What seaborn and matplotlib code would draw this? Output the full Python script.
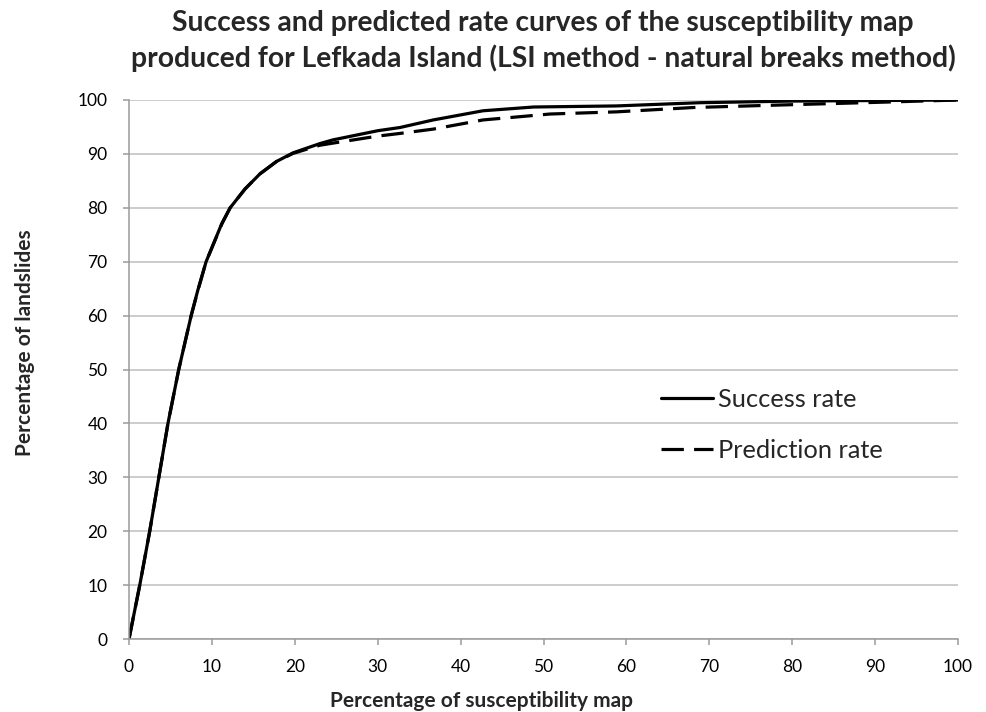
import numpy as np
import pandas as pd
import matplotlib
matplotlib.use("Agg")
import matplotlib.pyplot as plt
from matplotlib.lines import Line2D
import seaborn as sns

success_x = [0, 1.3, 2.5, 3.6, 4.7, 6.0, 7.5, 8.3, 9.3, 11.2, 12.2, 14.0, 15.8, 17.8, 19.8, 23.0, 24.6, 30, 32.7, 36.7, 42.7, 48.8, 58.8, 68.9, 80, 90, 100]
success_y = [0, 10, 20, 30, 40, 50, 60, 64.7, 70, 77.1, 80, 83.5, 86.3, 88.6, 90.2, 91.9, 92.6, 94.3, 94.9, 96.3, 98.0, 98.7, 98.9, 99.5, 99.8, 99.9, 100]
pred_x = [0, 1.3, 2.5, 3.6, 4.7, 6.0, 7.5, 8.3, 9.3, 11.2, 12.2, 14.0, 15.8, 17.8, 19.8, 23.0, 24.6, 30, 32.7, 36.7, 42.7, 50.8, 58.8, 68, 76.9, 91, 100]
pred_y = [0, 10, 20, 30, 40, 50, 60, 64.6, 70, 77.0, 80, 83.5, 86.3, 88.6, 90.1, 91.6, 92.0, 93.3, 93.8, 94.6, 96.3, 97.4, 97.8, 98.6, 99.0, 99.6, 100]
series_names = ["Success rate", "Prediction rate"]
x_ticks = list(range(0, 101, 10))
y_ticks = list(range(0, 101, 10))

df = pd.concat([
    pd.DataFrame({"x": success_x, "y": success_y, "series": series_names[0]}),
    pd.DataFrame({"x": pred_x, "y": pred_y, "series": series_names[1]}),
], ignore_index=True)

sns.set_theme(style="white")
FONT = ["Lato", "DejaVu Sans"]
plt.rcParams["font.family"] = FONT

fig = plt.figure(figsize=(9.86, 7.12), dpi=100)
ax = fig.add_axes([129/986, 1 - 639/712, (958-129)/986, (639-100)/712])

DASH = (7, 3.2)
sns.lineplot(data=df, x="x", y="y", style="series", style_order=series_names,
             color="black", linewidth=2.3, dashes={series_names[0]: "", series_names[1]: DASH},
             sort=False, estimator=None, ax=ax, legend=False)
for ln in ax.lines:
    ln.set_solid_joinstyle("round")
    ln.set_dash_joinstyle("round")

ax.set_xlim(0, 100)
ax.set_ylim(0, 100)
ax.set_xticks(x_ticks)
ax.set_yticks(y_ticks)
ax.set_xticklabels([str(t) for t in x_ticks], fontsize=12.5)
ax.set_yticklabels([str(t) for t in y_ticks], fontsize=12.5)
ax.yaxis.grid(True, color="#bfbfbf", linewidth=1.1)
ax.xaxis.grid(False)
for s in ["top", "right"]:
    ax.spines[s].set_visible(False)
for s in ["left", "bottom"]:
    ax.spines[s].set_color("#9a9a9a")
    ax.spines[s].set_linewidth(1.1)
ax.tick_params(axis="both", which="major", direction="out", length=4.5, width=1.1,
               color="#9a9a9a", labelcolor="black", bottom=True, left=True)
ax.tick_params(axis="y", pad=11)
ax.tick_params(axis="x", pad=10)

ax.set_xlabel("Percentage of susceptibility map", fontsize=15, fontweight="bold")
ax.xaxis.set_label_coords((482-129)/829, (639-701)/539)
ax.xaxis.label.set_va("center")
ax.set_ylabel("Percentage of landslides", fontsize=15, fontweight="bold")
ax.yaxis.set_label_coords((25-129)/829, (639-343)/539)
ax.yaxis.label.set_va("center")

fig.text(543/986, 1 - 23/712, "Success and predicted rate curves of the susceptibility map",
         ha="center", va="center", fontsize=20.3, fontweight="bold")
fig.text(543/986, 1 - 58/712, "produced for Lefkada Island (LSI method - natural breaks method)",
         ha="center", va="center", fontsize=20.3, fontweight="bold")

handles = [Line2D([], [], color="black", linewidth=2.3),
           Line2D([], [], color="black", linewidth=2.3, dashes=DASH)]
leg = ax.legend(handles, series_names, loc="upper left",
                bbox_to_anchor=((661-129)/829, (639-388)/539), frameon=False,
                fontsize=18.3, handlelength=2.05, handletextpad=0.2, labelspacing=1.09,
                borderpad=0, borderaxespad=0)

fig.savefig("out.png", dpi=100)
